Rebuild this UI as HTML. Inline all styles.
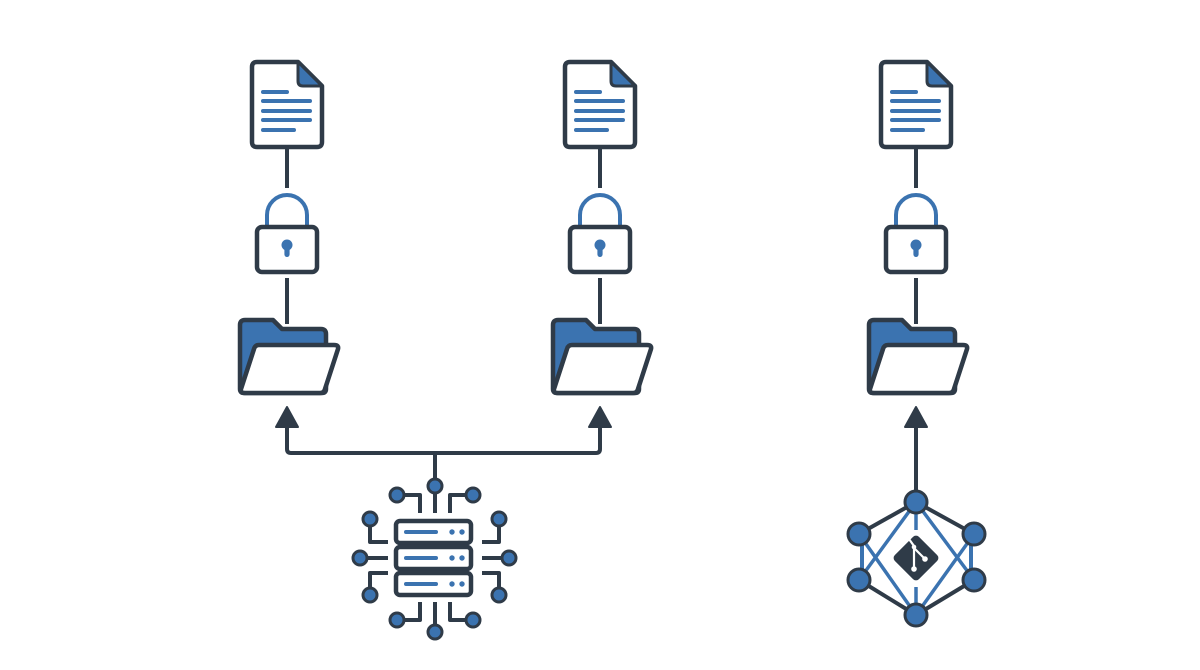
<!DOCTYPE html>
<html><head><meta charset="utf-8"><style>
html,body{margin:0;padding:0;background:#fff;}
svg{display:block;}
</style></head><body>
<svg width="1200" height="670" viewBox="0 0 1200 670" xmlns="http://www.w3.org/2000/svg">
<defs>
<g id="col">
  <!-- document -->
  <path d="M-30,62 H11 L35,86 V142 Q35,147 30,147 H-30 Q-35,147 -35,142 V67 Q-35,62 -30,62 Z" fill="#fff" stroke="#2f3b48" stroke-width="4.5" stroke-linejoin="round"/>
  <path d="M11,62 V81 Q11,86 16,86 H35 Z" fill="#3b73b0" stroke="#2f3b48" stroke-width="3" stroke-linejoin="round"/>
  <g stroke="#3b73b0" stroke-width="4" stroke-linecap="round">
    <line x1="-24" y1="92" x2="0" y2="92"/>
    <line x1="-24" y1="101" x2="23" y2="101"/>
    <line x1="-24" y1="111" x2="23" y2="111"/>
    <line x1="-24" y1="120" x2="23" y2="120"/>
    <line x1="-24" y1="130" x2="7" y2="130"/>
  </g>
  <!-- connectors -->
  <line x1="0" y1="149" x2="0" y2="188" stroke="#2f3b48" stroke-width="4"/>
  <line x1="0" y1="278" x2="0" y2="324" stroke="#2f3b48" stroke-width="4"/>
  <!-- lock -->
  <path d="M-20,227 V215 A20,20 0 0 1 20,215 V227" fill="none" stroke="#3b73b0" stroke-width="4"/>
  <rect x="-30" y="227" width="60" height="45" rx="5" fill="#fff" stroke="#2f3b48" stroke-width="4.5"/>
  <circle cx="0" cy="245" r="5.5" fill="#3b73b0"/>
  <rect x="-2.6" y="245" width="5.2" height="12" rx="2.6" fill="#3b73b0"/>
  <!-- folder -->
  <path d="M-47,389 V325 Q-47,320 -42,320 H-14 L-5,329 H34 Q39,329 39,334 V389 Q39,393 35,393 H-43 Q-47,393 -47,389 Z" fill="#3b73b0" stroke="#2f3b48" stroke-width="4.5" stroke-linejoin="round"/>
  <path d="M-28,345 H47 Q52,345 51,349 L38,389 Q37,393 33,393 H-42 Q-47,393 -46,389 L-33,349 Q-32,345 -28,345 Z" fill="#fff" stroke="#2f3b48" stroke-width="4.5" stroke-linejoin="round"/>
  <!-- arrow -->
  <polygon points="0,407 11,427 -11,427" fill="#2f3b48" stroke="#2f3b48" stroke-width="2" stroke-linejoin="round"/>
</g>
</defs>

<use href="#col" transform="translate(287,0)"/>
<use href="#col" transform="translate(600,0)"/>
<use href="#col" transform="translate(916,0)"/>

<!-- split connector -->
<path d="M287,427 V449 Q287,453 291,453 H596 Q600,453 600,449 V427" fill="none" stroke="#2f3b48" stroke-width="4"/>
<line x1="435" y1="453" x2="435" y2="479" stroke="#2f3b48" stroke-width="4"/>

<!-- server chip -->
<g fill="none" stroke="#2f3b48" stroke-width="4" stroke-linejoin="round">
  <line x1="435" y1="493" x2="435" y2="513"/>
  <path d="M404,495 H420 V513"/>
  <path d="M466,495 H450 V513"/>
  <path d="M370,526 V542 H388"/>
  <path d="M499,526 V542 H482"/>
  <path d="M367,558 H388"/>
  <path d="M502,558 H482"/>
  <path d="M370,588 V573 H388"/>
  <path d="M499,588 V573 H482"/>
  <path d="M404,620 H420 V602"/>
  <path d="M466,620 H450 V602"/>
  <line x1="435" y1="625" x2="435" y2="602"/>
  <rect x="396" y="521" width="75" height="22" rx="4" fill="#fff" stroke-width="4.5"/>
  <rect x="396" y="547" width="75" height="22" rx="4" fill="#fff" stroke-width="4.5"/>
  <rect x="396" y="573" width="75" height="22" rx="4" fill="#fff" stroke-width="4.5"/>
</g>
<g stroke="#3b73b0" stroke-width="4" stroke-linecap="round">
  <line x1="406" y1="532" x2="436" y2="532"/>
  <line x1="406" y1="558" x2="436" y2="558"/>
  <line x1="406" y1="584" x2="436" y2="584"/>
</g>
<g fill="#3b73b0">
  <circle cx="452" cy="532" r="2.7"/><circle cx="462" cy="532" r="2.7"/>
  <circle cx="452" cy="558" r="2.7"/><circle cx="462" cy="558" r="2.7"/>
  <circle cx="452" cy="584" r="2.7"/><circle cx="462" cy="584" r="2.7"/>
</g>
<g fill="#3b73b0" stroke="#2f3b48" stroke-width="3">
  <circle cx="435" cy="486" r="7"/>
  <circle cx="397" cy="495" r="7"/>
  <circle cx="473" cy="495" r="7"/>
  <circle cx="370" cy="519" r="7"/>
  <circle cx="499" cy="519" r="7"/>
  <circle cx="360" cy="558" r="7"/>
  <circle cx="509" cy="558" r="7"/>
  <circle cx="370" cy="595" r="7"/>
  <circle cx="499" cy="595" r="7"/>
  <circle cx="397" cy="620" r="7"/>
  <circle cx="473" cy="620" r="7"/>
  <circle cx="435" cy="632" r="7"/>
</g>

<!-- git network -->
<line x1="916" y1="427" x2="916" y2="492" stroke="#2f3b48" stroke-width="4"/>
<g stroke="#2f3b48" stroke-width="4">
  <line x1="916" y1="502" x2="859" y2="534"/>
  <line x1="916" y1="502" x2="974" y2="534"/>
  <line x1="859" y1="580" x2="916" y2="615"/>
  <line x1="974" y1="580" x2="916" y2="615"/>
</g>
<g stroke="#3b73b0" stroke-width="3.5">
  <line x1="916" y1="502" x2="859" y2="580"/>
  <line x1="916" y1="502" x2="974" y2="580"/>
  <line x1="859" y1="534" x2="916" y2="615"/>
  <line x1="974" y1="534" x2="916" y2="615"/>
  <line x1="862" y1="534" x2="862" y2="580" stroke-width="4"/>
  <line x1="971" y1="534" x2="971" y2="580" stroke-width="4"/>
  <line x1="916" y1="502" x2="916" y2="530"/>
  <line x1="916" y1="587" x2="916" y2="615"/>
</g>
<rect x="899" y="541" width="34" height="34" rx="4" fill="#2f3b48" transform="rotate(45 916 558)"/>
<g stroke="#fff" stroke-width="2.2" stroke-linecap="round" fill="none">
  <path d="M909,539 L914,546 V568"/>
  <path d="M914,548 L924,558"/>
</g>
<g fill="#fff">
  <circle cx="914" cy="569" r="2.8"/>
  <circle cx="925" cy="559" r="2.8"/>
  <circle cx="914" cy="547" r="2.3"/>
</g>
<g fill="#3b73b0" stroke="#2f3b48" stroke-width="3">
  <circle cx="916" cy="502" r="11"/>
  <circle cx="859" cy="534" r="11"/>
  <circle cx="974" cy="534" r="11"/>
  <circle cx="859" cy="580" r="11"/>
  <circle cx="974" cy="580" r="11"/>
  <circle cx="916" cy="615" r="11"/>
</g>
</svg>
</body></html>
